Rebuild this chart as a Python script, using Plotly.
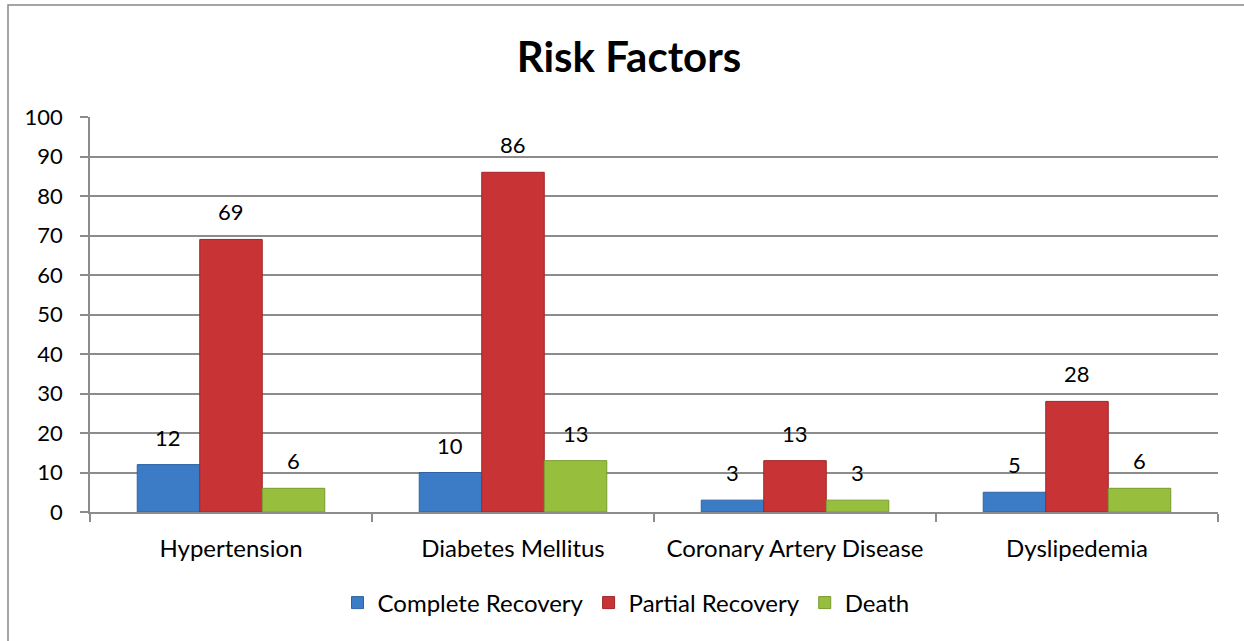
import plotly.graph_objects as go

# Risk factor categories and outcome counts
categories = ["Hypertension", "Diabetes Mellitus", "Coronary Artery Disease", "Dyslipedemia"]
complete_recovery = [12, 10, 3, 5]
partial_recovery = [69, 86, 13, 28]
death = [6, 13, 3, 6]

series_names = ["Complete Recovery", "Partial Recovery", "Death"]
series_values = [complete_recovery, partial_recovery, death]
series_colors = ["#3C7CC6", "#C83436", "#97BE3C"]
series_edges = ["#2D63A3", "#9E2628", "#789A2C"]

y_ticks = list(range(0, 101, 10))

FONT = "Lato, 'Open Sans', sans-serif"
GRID = "#8C8C8C"

W, H = 1244, 641
L, R, T, B = 90, 26, 117, 129
plot_w = W - L - R
plot_h = H - T - B

fig = go.Figure()
for name, vals, col, edge in zip(series_names, series_values, series_colors, series_edges):
    fig.add_trace(go.Bar(
        name=name,
        x=categories,
        y=vals,
        marker=dict(color=col, line=dict(color=edge, width=1)),
        text=[str(v) for v in vals],
        textposition="none",
        hoverinfo="x+y+name",
    ))

# value labels floated above each bar
bar_px = plot_w / len(categories) * (1 - 0.335) / 3
for i, vals in enumerate(series_values):
    for cat, v in zip(categories, vals):
        fig.add_annotation(
            x=cat, y=v, text=str(v), showarrow=False,
            xshift=(i - 1) * bar_px, yanchor="bottom", yshift=12,
            font=dict(family=FONT, size=22, color="#000000"),
        )

# outer chart border
fig.add_shape(
    type="rect", xref="paper", yref="paper",
    x0=(8 - L) / plot_w, x1=(W + 20 - L) / plot_w,
    y0=-(H + 20 - T - plot_h) / plot_h, y1=(H - B - 5) / plot_h,
    line=dict(color="#888888", width=1.5), layer="below",
)

fig.update_layout(
    width=W, height=H,
    margin=dict(l=L, r=R, t=T, b=B),
    paper_bgcolor="#FFFFFF", plot_bgcolor="#FFFFFF",
    barmode="group", bargap=0.335, bargroupgap=0,
    font=dict(family=FONT, size=22, color="#000000"),
    title=dict(
        text="<b>Risk Factors</b>", xref="container", x=629 / W,
        yref="container", y=1 - 57 / H, xanchor="center", yanchor="middle",
        font=dict(family=FONT, size=42, color="#000000"),
    ),
    legend=dict(
        orientation="h", xref="paper", yref="paper",
        x=(626 - L) / plot_w, y=-(603 - T - plot_h) / plot_h,
        xanchor="center", yanchor="middle",
        font=dict(family=FONT, size=24, color="#000000"),
        itemwidth=30, traceorder="normal",
    ),
    showlegend=True,
)

fig.update_xaxes(
    showgrid=False, showline=True, linecolor=GRID, linewidth=1.5,
    ticks="outside", tickson="boundaries", ticklen=8, tickcolor=GRID, tickwidth=1.5,
    ticklabelstandoff=14,
    tickfont=dict(family=FONT, size=24, color="#000000"),
)
fig.update_yaxes(
    range=[0, 100], tickvals=y_ticks, ticktext=[str(v) for v in y_ticks],
    showgrid=True, gridcolor=GRID, gridwidth=1.5,
    showline=True, linecolor=GRID, linewidth=1.5,
    ticks="outside", ticklen=8, tickcolor=GRID, tickwidth=1.5,
    ticklabelstandoff=13,
    zeroline=False,
    tickfont=dict(family=FONT, size=22, color="#000000"),
)

fig.write_html("out.html")
